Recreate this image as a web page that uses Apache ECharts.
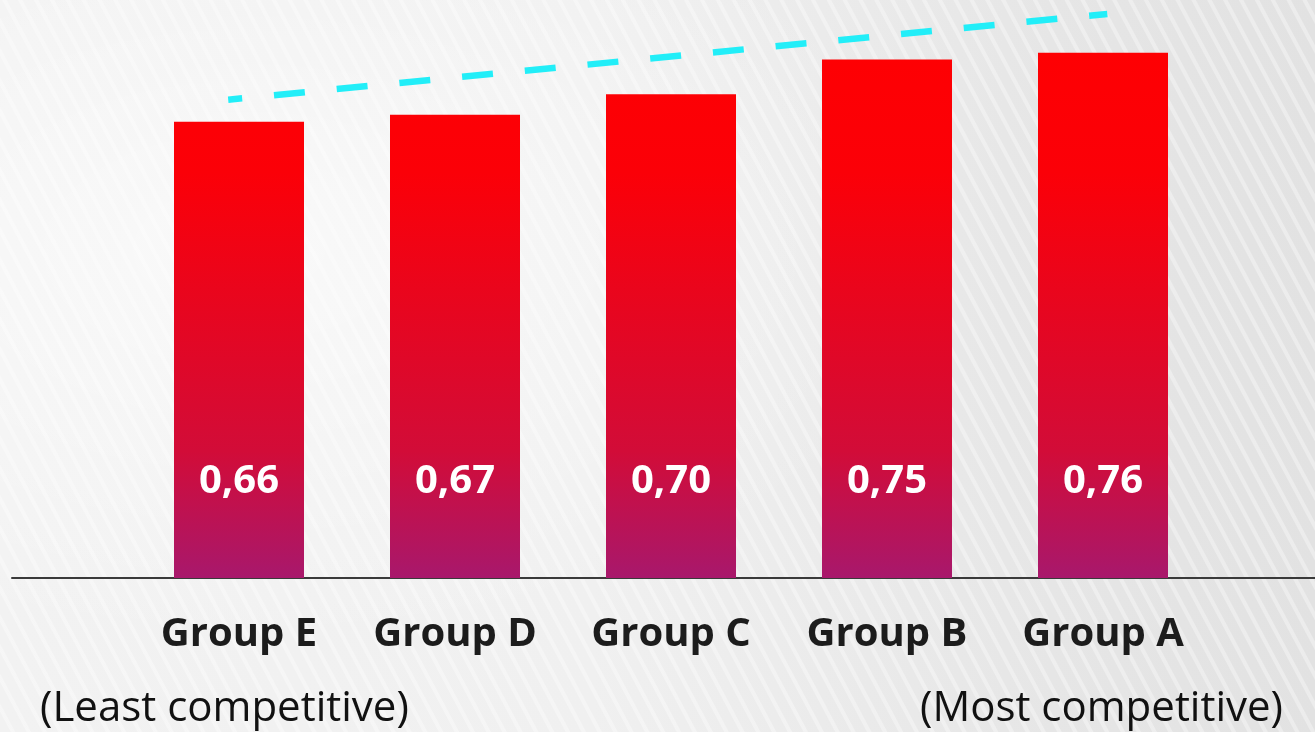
<!DOCTYPE html>
<html><head><meta charset="utf-8">
<script src="https://cdn.jsdelivr.net/npm/echarts@6/dist/echarts.min.js"></script>
<style>
html,body{margin:0;padding:0;}
#bg{position:absolute;left:0;top:0;width:1315px;height:732px;
background:
 repeating-linear-gradient(62deg, rgba(255,255,255,0) 0px, rgba(255,255,255,0) 9px, rgba(255,255,255,0.35) 10px, rgba(255,255,255,0.35) 13px, rgba(255,255,255,0) 14px),
 radial-gradient(ellipse 700px 400px at 250px 250px, rgba(255,255,255,0.6), rgba(255,255,255,0)),
 linear-gradient(90deg,#f2f2f2 0%,#f0f0f0 45%,#e6e6e6 80%,#e2e2e2 100%);}
#c{position:absolute;left:0;top:0;width:1315px;height:732px;}
</style></head>
<body><div id="bg"></div><div id="c"></div>
<script>
const categories = ['Group E','Group D','Group C','Group B','Group A'];
const values = [0.66, 0.67, 0.70, 0.75, 0.76];
const valueLabels = ['0,66','0,67','0,70','0,75','0,76'];
// dashed trend line: [category position, value]
const trendPoints = [[-0.05, 0.692], [4.02, 0.816]];
const leftNote = '(Least competitive)';
const rightNote = '(Most competitive)';

const chart = echarts.init(document.getElementById('c'), null, {renderer:'canvas'});
chart.setOption({
  backgroundColor: 'transparent',
  animation: false,
  grid: [
    {left:131, width:1080, top:25, height:553},
    {left:12, right:0, top:25, height:553}
  ],
  xAxis: [
    {type:'category', data:categories, gridIndex:0,
     axisLine:{show:false}, axisTick:{show:false},
     axisLabel:{margin:37, fontFamily:'Open Sans', fontWeight:'bold', fontSize:40, color:'#1c1c1c'}},
    {type:'value', gridIndex:1, min:0, max:1,
     axisLine:{show:true, lineStyle:{color:'#3a3a3a', width:2}},
     axisTick:{show:false}, axisLabel:{show:false}, splitLine:{show:false}},
    {type:'value', gridIndex:0, min:-0.5, max:4.5, show:false}
  ],
  yAxis: [
    {type:'value', min:0, max:0.8, gridIndex:0, show:false},
    {type:'value', min:0, max:1, gridIndex:1, show:false}
  ],
  series: [
    {type:'bar', data:values, barWidth:130, xAxisIndex:0, yAxisIndex:0,
     itemStyle:{color:{type:'linear', x:0, y:0, x2:0, y2:578, global:true,
       colorStops:[{offset:0,color:'#ff0000'},{offset:0.3,color:'#fb0008'},{offset:0.78,color:'#d20c38'},{offset:1,color:'#a8186c'}]}},
     label:{show:true, position:'insideBottom', distance:76,
       formatter:p=>valueLabels[p.dataIndex],
       fontFamily:'Open Sans', fontWeight:'bold', fontSize:40, color:'#ffffff'}},
    {type:'line', data:trendPoints, clip:false, symbol:'none',
     xAxisIndex:2, yAxisIndex:0, z:5,
     lineStyle:{color:'#22eef8', width:6.5, type:[31,32], dashOffset:17}}
  ],
  graphic: [
    {type:'text', left:40, top:688, style:{text:leftNote, font:'42px "Open Sans"', fill:'#111'}},
    {type:'text', right:32, top:688, style:{text:rightNote, font:'42px "Open Sans"', fill:'#111'}}
  ]
});
</script></body></html>
